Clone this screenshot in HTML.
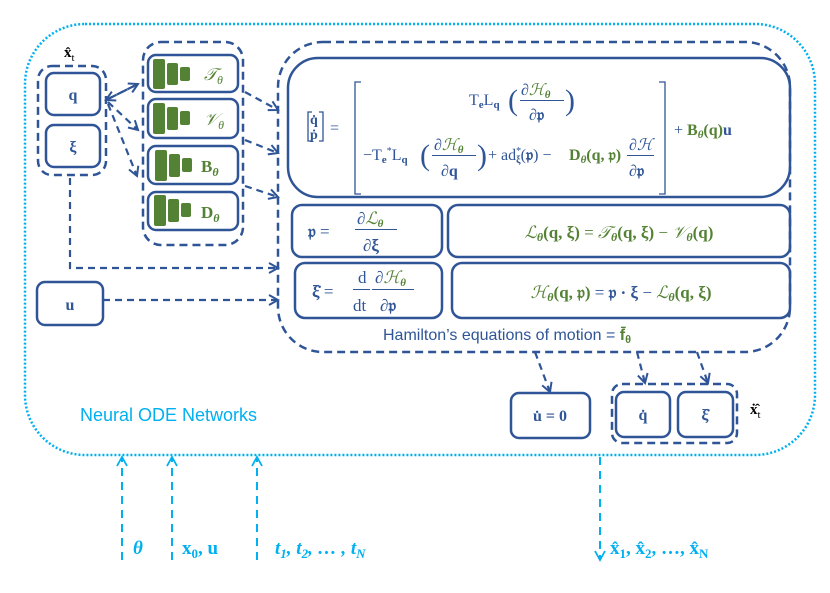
<!DOCTYPE html>
<html><head><meta charset="utf-8"><style>
body{margin:0;background:#fff;}
svg{display:block}
text{font-family:"Liberation Serif",serif;}
.b{fill:#2f5597}.g{fill:#548235}.c{fill:#00b0f0}
</style></head><body>
<svg width="830" height="593" viewBox="0 0 830 593" xmlns="http://www.w3.org/2000/svg">
<defs>
<marker id="a" markerWidth="12" markerHeight="12" refX="10" refY="6" orient="auto" markerUnits="userSpaceOnUse"><path d="M1,1 L10,6 L1,11" fill="none" stroke="#2f5597" stroke-width="2"/></marker>
<marker id="ac" markerWidth="12" markerHeight="12" refX="10" refY="6" orient="auto" markerUnits="userSpaceOnUse"><path d="M1,1 L10,6 L1,11" fill="none" stroke="#00b0f0" stroke-width="1.8"/></marker>
</defs>
<rect x="25" y="24" width="790" height="431" rx="60" fill="none" stroke="#00b0f0" stroke-width="2.5" stroke-dasharray="2 2"/>
<g fill="none" stroke="#2f5597" stroke-width="2.5">
<rect x="38" y="66" width="68" height="109" rx="14" stroke-dasharray="8 5"/>
<rect x="143" y="42" width="100" height="203" rx="18" stroke-dasharray="8 5"/>
<rect x="278" y="42" width="512" height="310" rx="45" stroke-dasharray="8 5"/>
<rect x="612" y="384" width="125" height="59" rx="10" stroke-dasharray="8 5"/>
<rect x="46" y="73" width="54" height="42" rx="8"/>
<rect x="46" y="125" width="54" height="42" rx="8"/>
<rect x="148" y="55" width="90" height="37" rx="8"/>
<rect x="148" y="99" width="90" height="39" rx="8"/>
<rect x="148" y="146" width="90" height="38" rx="8"/>
<rect x="148" y="192" width="90" height="38" rx="8"/>
<rect x="288" y="58" width="502" height="139" rx="30"/>
<rect x="292" y="205" width="150" height="52" rx="10"/>
<rect x="448" y="205" width="342" height="52" rx="10"/>
<rect x="295" y="263" width="147" height="55" rx="10"/>
<rect x="452" y="263" width="338" height="55" rx="10"/>
<rect x="37" y="282" width="66" height="43" rx="8"/>
<rect x="511" y="393" width="79" height="45" rx="8"/>
<rect x="616" y="392" width="54" height="45" rx="8"/>
<rect x="678" y="392" width="55" height="45" rx="8"/>
<g stroke-dasharray="7 5" stroke-width="2.2">
<path d="M106,100 L138,84" marker-end="url(#a)"/>
<path d="M138,84 L106,100" marker-end="url(#a)"/>
<path d="M108,102 L138,130" marker-end="url(#a)"/>
<path d="M108,104 L137,176" marker-end="url(#a)"/>
<path d="M245,92 L278,110" marker-end="url(#a)"/>
<path d="M245,140 L278,153" marker-end="url(#a)"/>
<path d="M245,186 L278,197" marker-end="url(#a)"/>
<path d="M70,178 L70,268 L278,268" marker-end="url(#a)"/>
<path d="M103,300 L278,300" marker-end="url(#a)"/>
<path d="M535,352 L550,392" marker-end="url(#a)"/>
<path d="M637,352 L645,383" marker-end="url(#a)"/>
<path d="M697,352 L708,383" marker-end="url(#a)"/>
</g>
</g>
<g stroke="#00b0f0" stroke-width="2" stroke-dasharray="8 6" fill="none">
<path d="M122,560 L122,457" marker-end="url(#ac)"/>
<path d="M172,560 L172,457" marker-end="url(#ac)"/>
<path d="M257,560 L257,457" marker-end="url(#ac)"/>
<path d="M600,457 L600,560" marker-end="url(#ac)"/>
</g>
<g class="g">
<rect x="153" y="59" width="12" height="30" rx="2"/><rect x="167" y="63" width="11" height="22" rx="2"/><rect x="180" y="67" width="10" height="14" rx="2"/>
<rect x="153" y="103" width="12" height="31" rx="2"/><rect x="167" y="107" width="11" height="23" rx="2"/><rect x="180" y="111" width="10" height="14" rx="2"/>
<rect x="155" y="150" width="12" height="31" rx="2"/><rect x="169" y="154" width="11" height="23" rx="2"/><rect x="182" y="158" width="10" height="14" rx="2"/>
<rect x="154" y="195" width="12" height="31" rx="2"/><rect x="168" y="199" width="11" height="23" rx="2"/><rect x="181" y="203" width="10" height="14" rx="2"/>
</g>
<g font-size="17" class="g" font-style="italic">
<text x="204" y="80">𝒯<tspan font-size="12" dy="4">θ</tspan></text>
<text x="204" y="125">𝒱<tspan font-size="12" dy="4">θ</tspan></text>
<text x="201" y="172" font-style="normal" font-weight="bold">B<tspan font-size="12" dy="4" font-style="italic">θ</tspan></text>
<text x="201" y="218" font-style="normal" font-weight="bold">D<tspan font-size="12" dy="4" font-style="italic">θ</tspan></text>
</g>
<g class="b" font-weight="bold" font-size="16">
<text x="73" y="100" text-anchor="middle">q</text>
<text x="73" y="152" text-anchor="middle">ξ</text>
<text x="70" y="310" text-anchor="middle">u</text>
<text x="550" y="421" text-anchor="middle">u̇ = 0</text>
<text x="643" y="420" text-anchor="middle">q̇</text>
<text x="705" y="420" text-anchor="middle">ξ̇</text>
</g>
<text x="64" y="57" font-size="15" font-weight="bold">x̂<tspan font-size="11" dy="4" font-weight="normal">t</tspan></text>
<text x="750" y="414" font-size="15" font-weight="bold">ẋ̂<tspan font-size="11" dy="4" font-weight="normal">t</tspan></text>
<!-- main equation -->
<g fill="none" stroke="#2f5597" stroke-width="1.3">
<path d="M312,112 h-4 v29 h4 M319,112 h4 v29 h-4"/>
<path d="M361,82 h-6 v112 h6 M659,82 h6 v112 h-6"/>
</g>
<g class="b" font-size="16">
<text x="310" y="124" font-weight="bold" font-size="14">q̇</text>
<text x="310" y="139" font-weight="bold" font-size="14">ṗ</text>
<text x="330" y="133">=</text>
<text x="469" y="105">T<tspan font-size="11" dy="3" font-weight="bold">e</tspan><tspan dy="-3">L</tspan><tspan font-size="11" dy="3" font-weight="bold">q</tspan></text>
<text x="508" y="110" font-size="30">(</text>
<text x="521" y="95">∂<tspan class="g" font-style="italic">ℋ</tspan><tspan class="g" font-size="11" dy="3" font-weight="bold" font-style="italic">θ</tspan></text>
<rect x="520" y="100" width="44" height="1" fill="#2f5597"/>
<text x="529" y="120">∂<tspan font-weight="bold">𝔭</tspan></text>
<text x="565" y="110" font-size="30">)</text>
<text x="363" y="160">−T<tspan font-size="11" dy="3" font-weight="bold">e</tspan><tspan font-size="10" dy="-9">*</tspan><tspan dy="6">L</tspan><tspan font-size="11" dy="3" font-weight="bold">q</tspan></text>
<text x="420" y="165" font-size="30">(</text>
<text x="434" y="150">∂<tspan class="g" font-style="italic">ℋ</tspan><tspan class="g" font-size="11" dy="3" font-weight="bold" font-style="italic">θ</tspan></text>
<rect x="432" y="155" width="44" height="1" fill="#2f5597"/>
<text x="441" y="176">∂<tspan font-weight="bold">q</tspan></text>
<text x="477" y="165" font-size="30">)</text>
<text x="488" y="160">+ ad<tspan font-size="10" dy="-6">*</tspan><tspan font-size="10" dy="9" font-weight="bold" dx="-5">ξ</tspan><tspan dy="-3">(</tspan><tspan font-weight="bold">𝔭</tspan>) −</text>
<text x="569" y="160" class="g" font-weight="bold">D<tspan font-size="11" dy="3" font-style="italic">θ</tspan><tspan dy="-3">(q, 𝔭)</tspan></text>
<text x="629" y="150">∂<tspan font-style="italic">ℋ</tspan></text>
<rect x="627" y="155" width="27" height="1" fill="#2f5597"/>
<text x="629" y="176">∂<tspan font-weight="bold">𝔭</tspan></text>
<text x="674" y="135">+ <tspan class="g" font-weight="bold">B<tspan font-size="11" dy="3" font-style="italic">θ</tspan><tspan dy="-3">(q)</tspan></tspan><tspan font-weight="bold">u</tspan></text>
</g>
<g font-size="17">
<text x="308" y="237" class="b"><tspan font-weight="bold">𝔭</tspan> =</text>
<text x="357" y="224" class="b">∂<tspan class="g" font-style="italic">ℒ</tspan><tspan class="g" font-size="11" dy="3" font-weight="bold" font-style="italic">θ</tspan></text>
<rect x="355" y="229" width="42" height="1" fill="#2f5597"/>
<text x="363" y="251" class="b">∂<tspan font-weight="bold">ξ</tspan></text>
<text x="619" y="238" text-anchor="middle" class="g"><tspan font-style="italic">ℒ</tspan><tspan font-size="12" dy="3" font-weight="bold" font-style="italic">θ</tspan><tspan dy="-3" font-weight="bold">(q, ξ)</tspan> = <tspan font-style="italic">𝒯</tspan><tspan font-size="12" dy="3" font-weight="bold" font-style="italic">θ</tspan><tspan dy="-3" font-weight="bold">(q, ξ)</tspan> − <tspan font-style="italic">𝒱</tspan><tspan font-size="12" dy="3" font-weight="bold" font-style="italic">θ</tspan><tspan dy="-3" font-weight="bold">(q)</tspan></text>
<text x="312" y="297" class="b"><tspan font-weight="bold">ξ̇</tspan> =</text>
<text x="358" y="283" class="b">d</text>
<rect x="353" y="289" width="17" height="1" fill="#2f5597"/>
<text x="353" y="311" class="b">dt</text>
<text x="375" y="283" class="b">∂<tspan class="g" font-style="italic">ℋ</tspan><tspan class="g" font-size="11" dy="3" font-weight="bold" font-style="italic">θ</tspan></text>
<rect x="372" y="289" width="42" height="1" fill="#2f5597"/>
<text x="380" y="311" class="b">∂<tspan font-weight="bold">𝔭</tspan></text>
<text x="621" y="298" text-anchor="middle" class="g"><tspan font-style="italic">ℋ</tspan><tspan font-size="12" dy="3" font-weight="bold" font-style="italic">θ</tspan><tspan dy="-3" font-weight="bold">(q, 𝔭)</tspan> <tspan class="b">= <tspan font-weight="bold">𝔭 · ξ</tspan> −</tspan> <tspan font-style="italic">ℒ</tspan><tspan font-size="12" dy="3" font-weight="bold" font-style="italic">θ</tspan><tspan dy="-3" font-weight="bold">(q, ξ)</tspan></text>
</g>
<text x="383" y="340" font-size="16" class="b" style="font-family:'Liberation Sans',sans-serif">Hamilton’s equations of motion = <tspan class="g" font-weight="bold">f̄<tspan font-size="11" dy="3">θ</tspan></tspan></text>
<text x="80" y="421" font-size="18" class="c" style="font-family:'Liberation Sans',sans-serif">Neural ODE Networks</text>
<g class="c" font-size="19" font-weight="bold">
<text x="133" y="554" font-style="italic">θ</text>
<text x="182" y="554">x<tspan font-size="13" dy="4">0</tspan><tspan dy="-4">, u</tspan></text>
<text x="275" y="554" font-style="italic">t<tspan font-size="13" dy="4">1</tspan><tspan dy="-4">, t</tspan><tspan font-size="13" dy="4">2</tspan><tspan dy="-4">, … , t</tspan><tspan font-size="13" dy="4">N</tspan></text>
<text x="610" y="554">x̂<tspan font-size="13" dy="4">1</tspan><tspan dy="-4">, x̂</tspan><tspan font-size="13" dy="4">2</tspan><tspan dy="-4">, …, x̂</tspan><tspan font-size="13" dy="4">N</tspan></text>
</g>
</svg>
</body></html>
